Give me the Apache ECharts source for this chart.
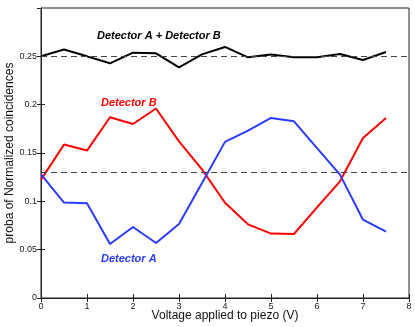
<!DOCTYPE html>
<html>
<head>
    <meta charset="utf-8">
    <title>Detector coincidences</title>
    <script src="https://cdn.jsdelivr.net/npm/echarts@6/dist/echarts.min.js"></script>
</head>
<body style="margin:0">
    <div id="main" style="width:415px;height:327px"></div>
    <script type="text/javascript">
        // tension on the piezo (V)
        var voltage = [0, 0.5, 1, 1.5, 2, 2.5, 3, 3.5, 4, 4.5, 5, 5.5, 6, 6.5, 7, 7.5];
        var detA = [0.128, 0.0987, 0.098, 0.0559, 0.0735, 0.0569, 0.0766, 0.119, 0.1615, 0.1732, 0.1863, 0.1828, 0.155, 0.1276, 0.081, 0.0686];
        var detB = [0.1225, 0.1587, 0.1525, 0.187, 0.180, 0.196, 0.162, 0.133, 0.0985, 0.0762, 0.0666, 0.0662, 0.0938, 0.1207, 0.1656, 0.1863];
        var detSum = [0.250, 0.257, 0.250, 0.2428, 0.2538, 0.2531, 0.2386, 0.252, 0.2597, 0.249, 0.252, 0.249, 0.249, 0.2524, 0.2462, 0.2545];
        var refLevels = [0.25, 0.125];

        function pairs(ys) {
            var out = [];
            for (var i = 0; i < voltage.length; i++) out.push([voltage[i], ys[i]]);
            return out;
        }

        var font = 'Liberation Sans, Arial, sans-serif';
        var axisLine = {show: true, lineStyle: {color: '#222', width: 1}};
        var ticks = {show: true, inside: true, length: 4, lineStyle: {color: '#222'}};

        var chart = echarts.init(document.getElementById('main'));
        var option = {
            animation: false,
            grid: {left: 41, right: 6, top: 8, bottom: 29, containLabel: false, outerBoundsMode: 'none',
                show: true, borderColor: '#222', borderWidth: 1},
            xAxis: [{
                type: 'value', min: 0, max: 8, interval: 1,
                name: 'Voltage applied to piezo (V)', nameLocation: 'middle', nameGap: 12, nameMoveOverlap: false,
                nameTextStyle: {fontFamily: font, fontSize: 12, color: '#111', verticalAlign: 'top'},
                axisLine: axisLine, axisTick: ticks, splitLine: {show: false},
                axisLabel: {fontFamily: font, fontSize: 9, color: '#222', margin: 4}
            }, {
                type: 'value', min: 0, max: 8, interval: 1, position: 'top', show: true,
                axisLine: axisLine, axisTick: ticks, splitLine: {show: false},
                axisLabel: {show: false}
            }],
            yAxis: [{
                type: 'value', min: 0, max: 0.3, interval: 0.05,
                name: 'proba of Normalized coincidences', nameLocation: 'middle', nameGap: 25, nameMoveOverlap: false,
                nameTextStyle: {fontFamily: font, fontSize: 12, color: '#111'},
                axisLine: axisLine, axisTick: ticks, splitLine: {show: false},
                axisLabel: {fontFamily: font, fontSize: 9, color: '#222', margin: 4, showMaxLabel: false}
            }, {
                type: 'value', min: 0, max: 0.3, interval: 0.05, position: 'right', show: true,
                axisLine: axisLine, axisTick: ticks, splitLine: {show: false},
                axisLabel: {show: false}
            }],
            series: [
                {
                    type: 'line', data: pairs(detSum), symbol: 'none',
                    lineStyle: {color: '#000', width: 2},
                    markLine: {
                        silent: true, symbol: 'none', label: {show: false},
                        lineStyle: {color: '#444', type: [6, 4], width: 1},
                        data: refLevels.map(function (v) { return {yAxis: v}; })
                    }
                },
                {type: 'line', data: pairs(detB), symbol: 'none', lineStyle: {color: '#ff0000', width: 2}},
                {type: 'line', data: pairs(detA), symbol: 'none', lineStyle: {color: '#2a3cff', width: 2}}
            ],
            graphic: [
                {type: 'text', left: 97, top: 30, style: {text: 'Detector A + Detector B', fill: '#000',
                    font: 'italic bold 11px ' + font}},
                {type: 'text', left: 101, top: 97, style: {text: 'Detector B', fill: '#ff0000',
                    font: 'italic bold 11px ' + font}},
                {type: 'text', left: 101, top: 253, style: {text: 'Detector A', fill: '#2a3cff',
                    font: 'italic bold 11px ' + font}}
            ]
        };
        chart.setOption(option);
    </script>
</body>
</html>
